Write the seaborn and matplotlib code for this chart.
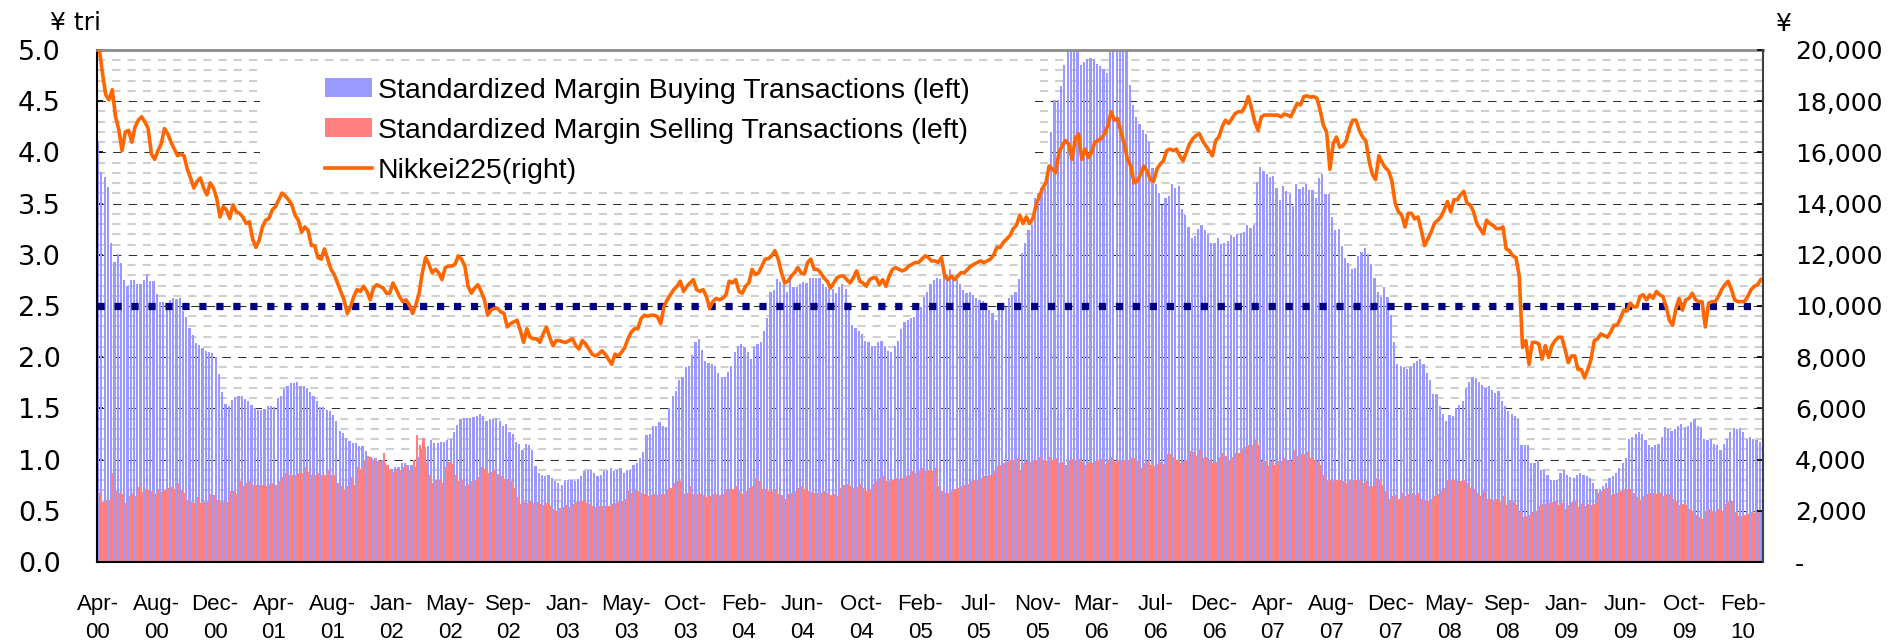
import numpy as np
import pandas as pd
import matplotlib
matplotlib.use("Agg")
import matplotlib.pyplot as plt
import seaborn as sns
from matplotlib.lines import Line2D
from matplotlib.patches import Patch, Rectangle

# weekly values, Apr-2000 .. Mar-2010
buying = [
    4.10, 3.81, 3.76, 3.66, 3.12, 2.93, 3.01, 2.92, 2.75, 2.70, 2.75, 2.75, 2.71, 2.71, 2.75, 2.81, 2.74, 2.74, 2.62, 2.54,
    2.54, 2.50, 2.56, 2.58, 2.57, 2.58, 2.45, 2.39,
    2.29, 2.22, 2.14, 2.12, 2.09, 2.06, 2.05, 2.04, 2.00, 1.84, 1.66, 1.54, 1.52, 1.58, 1.61, 1.62, 1.62, 1.59, 1.57, 1.53,
    1.50, 1.48, 1.48, 1.49, 1.52, 1.52, 1.51, 1.60, 1.62, 1.69, 1.72, 1.75, 1.75, 1.76, 1.72, 1.72, 1.70, 1.66, 1.62, 1.57,
    1.51, 1.51, 1.48, 1.47, 1.44, 1.38, 1.28, 1.26, 1.21, 1.18, 1.16, 1.16, 1.13, 1.13, 1.08, 1.03, 1.02, 1.02, 1.00, 1.00,
    0.97, 0.89, 0.91, 0.93, 0.93, 0.97, 0.97, 0.95, 0.95, 0.93, 1.03, 1.10, 1.12, 1.13, 1.19, 1.16, 1.16, 1.17, 1.17, 1.19,
    1.20, 1.27, 1.34, 1.40, 1.41, 1.41, 1.41, 1.42, 1.43, 1.45, 1.43, 1.38, 1.40,
    1.40, 1.41, 1.38, 1.33, 1.35, 1.27, 1.25, 1.17, 1.15, 1.09, 1.15, 1.14, 1.09, 0.94, 0.87, 0.85, 0.84, 0.85, 0.82, 0.79,
    0.77, 0.75, 0.80, 0.80, 0.80, 0.79, 0.81, 0.84, 0.89, 0.90, 0.90, 0.87, 0.84, 0.85, 0.89, 0.90, 0.92, 0.89, 0.90, 0.92,
    0.87, 0.90, 0.90, 0.95, 0.97, 1.02, 1.07, 1.24, 1.25, 1.33,
    1.33, 1.37, 1.33, 1.32, 1.50, 1.62, 1.67, 1.78, 1.81, 1.90, 1.91, 2.02, 2.15, 2.18, 2.07, 1.96, 1.94, 1.93, 1.91, 1.85,
    1.81, 1.81, 1.86, 1.91, 2.05, 2.11, 2.13, 2.10, 2.05, 1.98, 2.10, 2.13, 2.15, 2.26, 2.38, 2.64, 2.66, 2.76, 2.73, 2.73,
    2.64, 2.77, 2.69, 2.69, 2.71, 2.73, 2.72, 2.77, 2.77, 2.77, 2.77, 2.71, 2.69, 2.67, 2.67, 2.63, 2.69, 2.71, 2.67, 2.49,
    2.31, 2.29, 2.26, 2.23, 2.16, 2.15, 2.11, 2.11, 2.15, 2.16, 2.11, 2.06, 2.05, 2.11, 2.16, 2.28, 2.34, 2.36, 2.38, 2.39,
    2.46, 2.49, 2.59, 2.64, 2.71, 2.75,
    2.77, 2.76, 2.82, 2.81, 2.86, 2.79, 2.76, 2.71, 2.66, 2.63, 2.64, 2.61, 2.58, 2.56, 2.55, 2.53, 2.46, 2.43, 2.36, 2.46,
    2.49, 2.49, 2.58, 2.61, 2.64, 2.76, 3.02, 3.12, 3.24, 3.29, 3.55, 3.60, 3.65, 3.65, 3.85, 4.20, 4.51, 4.51, 4.65, 4.85,
    5.20, 5.20, 5.20, 5.20, 4.85, 4.88, 4.91, 4.92, 4.91, 4.86, 4.84, 4.81, 4.78, 5.20, 5.20, 5.20, 5.20, 5.20, 5.20, 4.66,
    4.46, 4.35, 4.28, 4.22, 4.18, 4.10, 3.85, 3.69, 3.60, 3.49, 3.55, 3.57, 3.69, 3.65, 3.67, 3.45, 3.39, 3.27, 3.16, 3.18,
    3.25, 3.29, 3.24, 3.20, 3.12, 3.12,
    3.16, 3.11, 3.12, 3.13, 3.19, 3.17, 3.20, 3.21, 3.22, 3.29, 3.26, 3.29, 3.71, 3.86, 3.82, 3.79, 3.76, 3.77, 3.65, 3.54,
    3.67, 3.62, 3.59, 3.48, 3.69, 3.64, 3.66, 3.69, 3.63, 3.63, 3.55, 3.75, 3.79, 3.59, 3.59, 3.37, 3.24, 3.25, 3.09, 2.97,
    2.92, 2.86, 2.87, 2.99, 3.03, 3.07, 3.01, 2.91, 2.77, 2.64, 2.59, 2.69, 2.59, 2.41, 2.15, 1.93, 1.91, 1.90, 1.88, 1.90,
    1.94, 1.96, 1.98, 1.93, 1.85, 1.78, 1.64, 1.64, 1.52, 1.45, 1.38, 1.44, 1.43, 1.50, 1.53, 1.57, 1.70, 1.76, 1.81, 1.80,
    1.76, 1.73, 1.70, 1.72, 1.68, 1.65,
    1.67, 1.57, 1.52, 1.47, 1.45, 1.43, 1.40, 1.14, 1.14, 1.14, 0.97, 0.97, 1.00, 0.90, 0.90, 0.85, 0.80, 0.80, 0.80, 0.87,
    0.90, 0.85, 0.83, 0.82, 0.85, 0.87, 0.85, 0.84, 0.82, 0.77, 0.71, 0.71, 0.74, 0.77, 0.82, 0.84, 0.87, 0.92, 0.97, 1.02,
    1.20, 1.22, 1.25, 1.27, 1.25, 1.19, 1.14, 1.12, 1.14, 1.15, 1.22, 1.32, 1.30, 1.28, 1.30, 1.33, 1.35, 1.32, 1.33, 1.37,
    1.40, 1.33, 1.32, 1.20, 1.19, 1.20, 1.15, 1.14, 1.09, 1.15, 1.20, 1.27, 1.31, 1.30, 1.31, 1.27, 1.20, 1.22, 1.20, 1.19,
    1.17,
]

selling = [
    0.67, 0.59, 0.61, 0.61, 0.87, 0.69, 0.67, 0.66, 0.58, 0.64, 0.67, 0.64, 0.73, 0.68, 0.71, 0.70, 0.69, 0.66, 0.71, 0.68,
    0.70, 0.72, 0.73, 0.71, 0.77, 0.70, 0.67, 0.61, 0.59, 0.58, 0.63, 0.58, 0.59, 0.59, 0.66, 0.65, 0.61, 0.59, 0.59, 0.59,
    0.69, 0.69, 0.66, 0.79, 0.74, 0.77, 0.79, 0.75, 0.75, 0.75, 0.75, 0.74, 0.76, 0.77, 0.75, 0.79, 0.83, 0.87, 0.85, 0.85,
    0.85, 0.87, 0.87, 0.93, 0.88, 0.85, 0.85, 0.87, 0.85, 0.85, 0.89, 0.85, 0.85, 0.77, 0.74, 0.70, 0.74, 0.83, 0.75, 0.93,
    0.91, 1.00, 1.04, 1.03, 1.00, 0.99, 0.99, 1.06, 0.95, 0.91, 0.88, 0.91, 0.90, 0.93, 0.95, 0.90, 1.00, 1.24, 1.14, 1.21,
    0.98, 0.85, 0.77, 0.80, 0.80, 0.77, 0.93, 0.98, 0.96, 0.85, 0.79, 0.80, 0.74, 0.76, 0.79, 0.80, 0.83, 0.93, 0.91, 0.87,
    0.88,
    0.90, 0.86, 0.84, 0.81, 0.81, 0.79, 0.72, 0.63, 0.57, 0.59, 0.58, 0.60, 0.58, 0.59, 0.57, 0.56, 0.58, 0.55, 0.52, 0.50,
    0.53, 0.54, 0.56, 0.54, 0.57, 0.59, 0.60, 0.60, 0.58, 0.57, 0.55, 0.54, 0.55, 0.55, 0.55, 0.55, 0.57, 0.58, 0.59, 0.60,
    0.62, 0.70, 0.67, 0.70, 0.69, 0.67, 0.66, 0.64, 0.65, 0.66,
    0.65, 0.66, 0.66, 0.71, 0.72, 0.77, 0.79, 0.79, 0.66, 0.67, 0.74, 0.66, 0.66, 0.66, 0.65, 0.63, 0.64, 0.66, 0.66, 0.65,
    0.66, 0.71, 0.71, 0.71, 0.74, 0.69, 0.66, 0.69, 0.72, 0.74, 0.82, 0.79, 0.71, 0.71, 0.69, 0.69, 0.71, 0.66, 0.65, 0.62,
    0.66, 0.67, 0.69, 0.72, 0.74, 0.71, 0.69, 0.68, 0.67, 0.67, 0.67, 0.69, 0.67, 0.65, 0.66, 0.64, 0.72, 0.75, 0.76, 0.74,
    0.72, 0.73, 0.76, 0.72, 0.69, 0.71, 0.76, 0.79, 0.82, 0.84, 0.79, 0.79, 0.80, 0.82, 0.81, 0.82, 0.84, 0.85, 0.89, 0.87,
    0.89, 0.92, 0.89, 0.90, 0.89, 0.92,
    0.74, 0.69, 0.67, 0.67, 0.69, 0.71, 0.72, 0.74, 0.75, 0.76, 0.79, 0.80, 0.80, 0.82, 0.84, 0.84, 0.85, 0.89, 0.94, 0.95,
    0.97, 0.98, 1.00, 1.00, 1.02, 0.90, 0.97, 0.99, 0.98, 1.00, 1.00, 1.03, 1.00, 0.99, 1.03, 1.00, 1.02, 0.97, 0.98, 0.95,
    1.00, 1.01, 1.00, 1.01, 0.98, 0.95, 0.98, 0.97, 0.99, 1.00, 1.01, 0.96, 1.00, 1.03, 0.98, 1.00, 0.99, 1.00, 1.00, 1.02,
    1.02, 0.99, 0.92, 0.97, 0.99, 0.95, 0.94, 0.96, 0.98, 0.96, 1.05, 1.05, 1.03, 1.00, 0.97, 0.99, 1.00, 1.08, 1.07, 1.04,
    1.09, 1.02, 1.03, 1.00, 0.97, 0.98,
    1.03, 1.06, 1.04, 1.00, 1.03, 1.06, 1.06, 1.10, 1.12, 1.14, 1.14, 1.19, 1.14, 0.99, 0.99, 0.94, 0.99, 0.95, 0.99, 0.99,
    1.02, 1.00, 0.99, 1.09, 1.04, 1.05, 1.05, 1.07, 1.02, 1.00, 0.99, 0.95, 0.85, 0.80, 0.80, 0.79, 0.80, 0.80, 0.79, 0.77,
    0.80, 0.80, 0.80, 0.80, 0.77, 0.79, 0.74, 0.74, 0.82, 0.80, 0.75, 0.69, 0.62, 0.64, 0.65, 0.62, 0.67, 0.64, 0.66, 0.67,
    0.65, 0.67, 0.62, 0.61, 0.60, 0.62, 0.64, 0.66, 0.69, 0.72, 0.80, 0.80, 0.80, 0.79, 0.79, 0.80, 0.77, 0.72, 0.71, 0.67,
    0.64, 0.69, 0.62, 0.62, 0.61, 0.62,
    0.59, 0.64, 0.56, 0.61, 0.59, 0.56, 0.49, 0.44, 0.45, 0.46, 0.49, 0.50, 0.55, 0.57, 0.57, 0.58, 0.59, 0.60, 0.56, 0.58,
    0.52, 0.56, 0.59, 0.60, 0.54, 0.57, 0.55, 0.57, 0.56, 0.57, 0.67, 0.69, 0.71, 0.72, 0.65, 0.66, 0.67, 0.69, 0.71, 0.71,
    0.71, 0.67, 0.63, 0.61, 0.64, 0.66, 0.67, 0.67, 0.66, 0.67, 0.64, 0.66, 0.66, 0.62, 0.60, 0.56, 0.57, 0.56, 0.52, 0.50,
    0.46, 0.44, 0.42, 0.50, 0.52, 0.50, 0.49, 0.52, 0.50, 0.57, 0.59, 0.60, 0.49, 0.45, 0.45, 0.46, 0.47, 0.49, 0.48, 0.49,
    0.49,
]

nikkei = [
    20070, 19100, 18250, 18050, 18450, 17400, 16890, 16070, 16800, 16860, 16400, 17000, 17260, 17390, 17190, 16930,
    15930, 15730, 16070, 16330, 16930, 16730, 16400, 16130, 15870, 15930, 15870, 15340, 15000, 14610, 14870, 15000,
    14610, 14340, 14810, 14610, 14210, 13480, 13880, 13750, 13420, 13950, 13680, 13620, 13480, 13220, 13290, 12620,
    12290, 12560, 13090, 13350, 13420, 13750, 13880, 14150, 14410, 14300, 14150, 13950, 13550, 13350, 12890, 13090,
    12950, 12360, 12360, 11890, 11830, 12230, 11830, 11430, 11230, 10900, 10570, 10240, 9710, 9970, 10370, 10640,
    10570, 10770, 10570, 10240, 10700, 10830,
    10770, 10700, 10500, 10500, 10900, 10640, 10370, 10170, 10240, 10040, 9710, 10040, 10500, 11300, 11890, 11630,
    11300, 11430, 11300, 11030, 11500, 11560, 11560, 11630, 11960, 11830, 11560, 10770, 10500, 10700, 10830, 10570,
    10240, 9640, 9840, 9910, 9910, 9770, 9710, 9180, 9310, 9380, 9440, 9050, 8580, 9110, 8780, 8720, 8720, 8580,
    8910, 9180, 8780, 8450, 8650, 8650, 8600, 8580, 8650, 8720, 8450, 8320, 8650, 8520, 8320, 8120, 8050, 8120,
    8250, 8120, 7920, 7720, 8120, 8050, 8190, 8380, 8720, 8980, 9110, 9110, 9510, 9640, 9600, 9640, 9640,
    9580, 9310, 9970, 10240, 10440, 10640, 10770, 10970, 10570, 10770, 10900, 11030, 10640, 10570, 10640, 10370,
    9910, 10170, 10300, 10240, 10300, 10440, 10970, 10900, 11030, 10570, 10500, 10770, 10900, 11430, 11230, 11300,
    11560, 11830, 11850, 11960, 12160, 11830, 11300, 10900, 10970, 11170, 11300, 11500, 11300, 11250, 11700, 11830,
    11430, 11430, 11300, 11100, 10970, 10700, 10900, 11100, 11170, 11170, 11030, 10900, 11100, 11370, 10970, 10900,
    10770, 11030, 11100, 11100, 10830, 11030, 10770, 11170, 11430, 11500, 11430, 11370, 11430, 11560, 11630, 11700,
    11700, 11830, 11960, 11890, 11760, 11760,
    11700, 11890, 11170, 11030, 11170, 11030, 11170, 11300, 11300, 11430, 11560, 11630, 11700, 11760, 11700, 11760,
    11830, 12000, 12290, 12290, 12490, 12620, 12750, 13020, 13150, 13550, 13220, 13480, 13220, 13420, 13950, 14280,
    14610, 14810, 15470, 15340, 15210, 16000, 16260, 16460, 16330, 15730, 16530, 16730, 15730, 16130, 15800, 16000,
    16400, 16460, 16550, 16730, 17060, 17590, 17260, 17320, 16790, 16330, 15730, 15470, 14810, 14870, 15140, 15470,
    15270, 14940, 14870, 15340, 15540, 15670, 16070, 16130, 16070, 16130, 15870, 15670, 16000, 16330, 16530, 16660,
    16730, 16460, 16260, 16070, 15870, 16460,
    16600, 17000, 17260, 17130, 17320, 17520, 17590, 17590, 17790, 18180, 17720, 17190, 16860, 17390, 17460, 17460,
    17460, 17450, 17460, 17390, 17500, 17460, 17390, 17650, 17920, 17850, 18180, 18210, 18160, 18180, 18120, 17650,
    17060, 16790, 15340, 16330, 16600, 16200, 16260, 16460, 16930, 17260, 17260, 16860, 16600, 16460, 15670, 15140,
    14940, 15870, 15600, 15400, 15270, 14870, 14010, 13680, 13550, 13090, 13620, 13620, 13400, 13480, 12950, 12360,
    12620, 12890, 13220, 13350, 13480, 13750, 14080, 13680, 14150, 14150, 14340, 14480, 14010, 13950, 13680, 13220,
    13020, 12820, 13350, 13220, 13150, 13020,
    13020, 13090, 12230, 12160, 11960, 11890, 11170, 8380, 8650, 7720, 8580, 8580, 8520, 7920, 8450, 7990,
    8450, 8650, 8780, 8780, 8320, 7790, 8050, 8050, 7520, 7520, 7190, 7520, 7920, 8650, 8720, 8910,
    8850, 8780, 8980, 9250, 9250, 9510, 9840, 9800, 10110, 9970, 9970, 10370, 10440, 10240, 10440, 10300,
    10570, 10440, 10370, 9970, 9440, 9250, 9910, 10300, 9840, 10240, 10300, 10500, 10240, 10170, 10170, 9180,
    10110, 10170, 10170, 10370, 10640, 10830, 10970, 10640, 10240, 10170, 10170, 10170, 10370, 10640, 10770, 10830,
    11030,
]

tick_labels = [
    "Apr-\n00", "Aug-\n00", "Dec-\n00", "Apr-\n01", "Aug-\n01", "Jan-\n02", "May-\n02", "Sep-\n02",
    "Jan-\n03", "May-\n03", "Oct-\n03", "Feb-\n04", "Jun-\n04", "Oct-\n04", "Feb-\n05", "Jul-\n05",
    "Nov-\n05", "Mar-\n06", "Jul-\n06", "Dec-\n06", "Apr-\n07", "Aug-\n07", "Dec-\n07", "May-\n08",
    "Sep-\n08", "Jan-\n09", "Jun-\n09", "Oct-\n09", "Feb-\n10",
]
tick_step = 18      # one label every 18 weeks
ref_level = 2.5     # dotted reference line (left axis)

BLUE = "#9999FF"
RED = "#FF8080"
ORANGE = "#FF6600"
NAVY = "#000080"

weeks = np.arange(len(buying))
df = pd.DataFrame({
    "week": np.concatenate([weeks, weeks]),
    "value": buying + selling,
    "series": ["buy"] * len(buying) + ["sell"] * len(selling),
})

plt.rcParams["font.family"] = ["DejaVu Sans"]
W, H = 1901, 643
fig = plt.figure(figsize=(W / 100, H / 100), dpi=100)
ax = fig.add_axes([97 / W, 1 - 562 / H, 1666 / W, 512 / H])

# overlapping clustered bars: each bar 0.67 wide, red shifted right of blue
sns.barplot(data=df, x="week", y="value", hue="series", hue_order=["buy", "sell"],
            palette={"buy": BLUE, "sell": RED}, saturation=1, width=1.34, dodge=True,
            errorbar=None, linewidth=0, antialiased=False, legend=False, ax=ax)

ax.axhline(ref_level, xmax=0.994, color=NAVY, lw=5.2, ls=(0, (1, 1.35)),
           dash_capstyle="butt", zorder=5)

ax2 = ax.twinx()
sns.lineplot(x=weeks, y=nikkei, ax=ax2, color=ORANGE, lw=2.6)

# axes limits / ticks
ax.set_ylim(0, 5)
ax2.set_ylim(0, 20000)
ax.set_xlim(-0.67, len(weeks) - 1 + 0.67)

ax.set_xticks(np.arange(0, len(weeks), tick_step) - 0.5)
ax.set_xticklabels(tick_labels, fontfamily="Liberation Sans", fontsize=16, linespacing=1.45)
ax.tick_params(axis="x", direction="in", length=6, width=1.5, pad=23)

left_ticks = np.arange(0, 5.01, 0.5)
ax.set_yticks(left_ticks)
ax.set_yticklabels([f"{v:.1f}" for v in left_ticks])
ax.set_yticks(np.arange(0, 5.01, 0.1), minor=True)
ax.tick_params(axis="y", which="major", direction="in", length=4, width=1.2, pad=26, labelsize=19.5)
ax.tick_params(axis="y", which="minor", length=0)

right_ticks = np.arange(0, 20001, 2000)
ax2.set_yticks(right_ticks)
ax2.set_yticklabels(["-" if v == 0 else f"{v:,}" for v in right_ticks])
ax2.tick_params(axis="y", direction="in", length=4, width=1.2, pad=23, labelsize=18)

for a in (ax, ax2):
    a.set_xlabel("")
    a.set_ylabel("")

# gridlines
ax.set_axisbelow(True)
ax.xaxis.grid(False)
ax.yaxis.grid(True, which="major", color="#303030", lw=0.75, ls=(0, (8, 7)))
ax.yaxis.grid(True, which="minor", color="#CFCFCF", lw=1.5, ls=(0, (3.9, 3.4)))

# spines
ax.spines["left"].set(color="black", lw=1.5)
ax.spines["bottom"].set(color="black", lw=1.5)
ax.spines["top"].set(color="#8C8C8C", lw=2)
ax.spines["right"].set_visible(False)
for s in ("left", "top", "bottom"):
    ax2.spines[s].set_visible(False)
ax2.spines["right"].set(color="#404040", lw=1.5)

# white legend area hides the gridlines behind it
ax.add_patch(Rectangle((0.0978, 0.7324), 0.4652, 0.2403, transform=ax.transAxes,
                       facecolor="white", edgecolor="none", zorder=0.9))
handles = [Patch(facecolor=BLUE, edgecolor="none"), Patch(facecolor=RED, edgecolor="none"),
           Line2D([], [], color=ORANGE, lw=2.6)]
labels = ["Standardized Margin Buying Transactions (left)",
          "Standardized Margin Selling Transactions (left)",
          "Nikkei225(right)"]
ax2.legend(handles, labels, loc="upper left", bbox_to_anchor=(0.1369, 0.946), frameon=False,
           prop={"family": "Liberation Sans", "size": 20.5}, handlelength=1.65, handleheight=0.67,
           handletextpad=0.2, labelspacing=0.49, borderpad=0, borderaxespad=0)

fig.text(50 / W, 1 - 23 / H, "¥ tri", fontsize=18, va="center", ha="left")
fig.text(1775 / W, 1 - 24 / H, "¥", fontsize=18, va="center", ha="left")

fig.savefig("out.png", dpi=100)
